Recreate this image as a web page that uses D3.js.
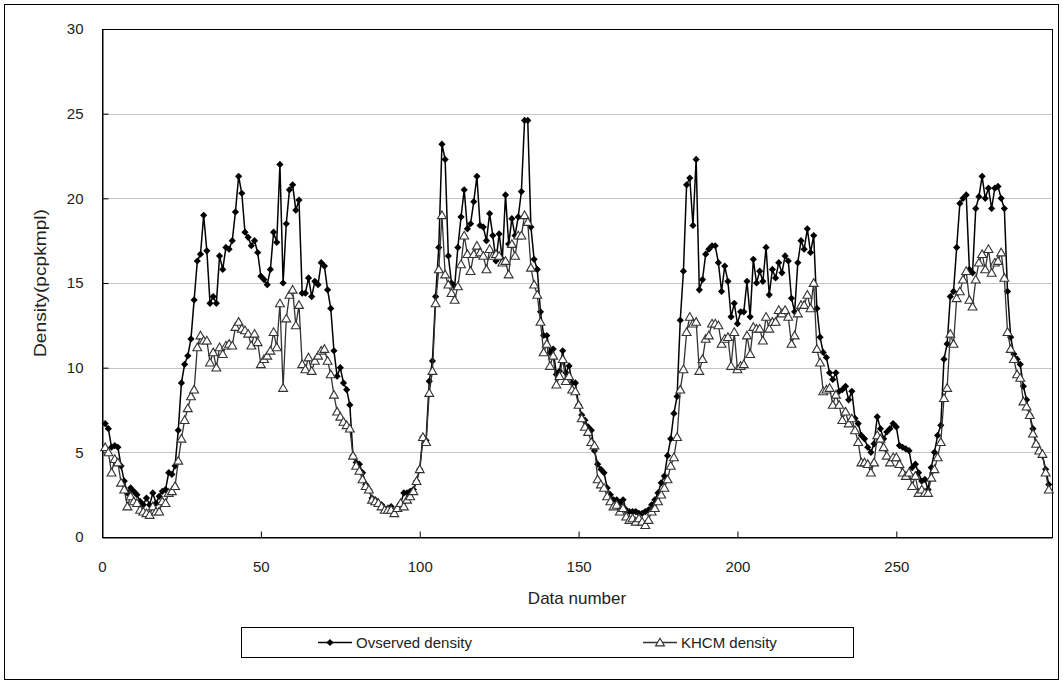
<!DOCTYPE html>
<html>
<head>
<meta charset="utf-8">
<script src="https://cdn.jsdelivr.net/npm/d3@7"></script>
<style>
  body { margin: 0; background: #fff; }
  svg { font-family: "Liberation Sans", Arial, sans-serif; }
</style>
</head>
<body>
<div id="chart"></div>
<script>
// Densities, data number 1..298.
const observed = [
  6.7, 6.4, 5.3, 5.4, 5.3, 4.2, 3.3, 2.6, 2.9, 2.7, 2.5, 2.1, 1.9, 2.3, 1.9, 2.6, 2.0, 2.4, 2.7, 2.8,
  3.8, 3.7, 4.2, 6.3, 9.1, 10.2, 10.7, 11.7, 14.0, 16.3, 16.7, 19.0, 16.9, 13.8, 14.2, 13.8, 16.6, 15.8, 17.1, 17.0,
  17.5, 19.2, 21.3, 20.3, 18.0, 17.7, 17.2, 17.5, 16.8, 15.4, 15.2, 14.9, 15.8, 18.0, 17.4, 22.0, 15.0, 18.5, 20.5, 20.8,
  19.3, 19.9, 14.4, 14.4, 15.3, 14.2, 15.1, 14.9, 16.2, 16.0, 14.6, 13.5, 11.0, 9.5, 10.0, 9.1, 8.7, 7.8, 4.8, 4.4,
  4.3, 3.8, 3.1, 2.8, 2.3, 2.2, 2.0, 1.9, 1.6, 1.7, 1.8, 1.5, 1.7, 2.0, 2.6, 2.6, 2.7, 2.8, 3.3, 4.0,
  5.9, 5.7, 9.2, 10.4, 14.2, 17.1, 23.2, 22.3, 16.6, 15.0, 14.8, 17.1, 18.9, 20.5, 18.2, 18.5, 19.8, 21.3, 18.4, 18.3,
  17.5, 19.1, 17.8, 16.3, 17.9, 16.4, 20.2, 17.3, 18.8, 17.8, 18.9, 20.4, 24.6, 24.6, 18.3, 16.4, 15.8, 13.3, 11.9, 11.9,
  10.9, 11.1, 9.6, 9.8, 11.0, 9.7, 10.1, 9.1, 9.1, 7.8, 7.2, 6.9, 6.5, 6.3, 5.1, 4.3, 4.0, 3.8, 2.9, 2.5,
  2.2, 2.2, 2.0, 2.2, 1.6, 1.5, 1.5, 1.5, 1.4, 1.4, 1.5, 1.6, 1.9, 2.2, 2.6, 3.2, 3.6, 4.8, 5.8, 7.3,
  8.3, 12.8, 15.7, 20.8, 21.2, 18.4, 22.3, 14.6, 15.2, 16.7, 17.0, 17.2, 17.2, 16.2, 14.5, 16.0, 15.1, 13.0, 13.8, 12.6,
  13.3, 13.3, 15.1, 13.0, 16.4, 15.0, 15.7, 15.1, 17.1, 14.3, 15.8, 15.3, 16.2, 15.6, 16.6, 16.3, 14.1, 13.3, 16.2, 17.5,
  17.0, 18.2, 16.8, 17.8, 13.5, 11.8, 10.9, 10.6, 9.7, 9.3, 9.7, 8.6, 8.7, 8.9, 8.1, 8.6, 7.0, 6.7, 6.0, 5.8,
  5.3, 5.0, 5.5, 7.1, 6.4, 5.8, 6.2, 6.4, 6.7, 6.5, 5.4, 5.3, 5.2, 5.1, 4.1, 4.3, 3.8, 3.3, 3.4, 2.8,
  4.1, 5.0, 6.0, 6.6, 10.5, 11.4, 14.2, 14.5, 17.1, 19.7, 20.0, 20.2, 15.8, 15.6, 19.4, 20.1, 21.3, 20.0, 20.6, 19.4,
  20.6, 20.7, 20.0, 19.4, 14.5, 11.8, 10.8, 10.5, 10.2, 8.9, 8.1, 7.2, 6.4, 5.5, 5.1, 4.8, 4.0, 3.1
];
const khcm = [
  5.3, 5.0, 3.8, 4.6, 4.4, 3.2, 2.8, 1.8, 2.4, 2.1, 2.0, 1.6, 1.5, 1.4, 1.3, 1.8, 1.5, 1.5, 2.1, 2.0,
  2.6, 2.7, 3.0, 4.5, 5.8, 6.9, 7.6, 8.3, 8.7, 11.2, 11.9, 11.6, 11.6, 10.3, 10.9, 10.0, 11.2, 10.8, 11.3, 11.4,
  11.3, 12.4, 12.7, 12.3, 12.2, 12.0, 11.3, 12.0, 11.5, 10.2, 10.5, 10.7, 11.0, 12.1, 11.2, 13.8, 8.8, 12.9, 14.3, 14.6,
  12.5, 13.7, 10.2, 9.9, 10.6, 9.8, 10.4, 10.7, 11.0, 11.1, 10.4, 9.6, 8.4, 7.4, 7.1, 6.8, 6.6, 6.4, 4.8, 4.2,
  3.9, 3.4, 3.0, 2.8, 2.2, 2.1, 2.0, 1.8, 1.6, 1.6, 1.6, 1.4, 1.7, 2.0, 1.8, 2.2, 2.4, 2.7, 3.3, 4.0,
  5.9, 5.6, 8.5, 9.8, 13.8, 15.8, 19.0, 15.5, 14.9, 14.4, 14.0, 14.8, 16.1, 17.8, 16.7, 15.7, 16.7, 17.2, 16.8, 16.6,
  15.8, 17.0, 16.6, 16.7, 16.6, 16.2, 16.3, 15.5, 17.3, 16.6, 17.8, 17.8, 19.0, 18.6, 15.9, 14.9, 14.3, 12.7, 10.9, 11.4,
  10.1, 10.7, 9.0, 9.5, 10.5, 9.2, 9.5, 8.7, 8.6, 7.8, 7.0, 6.5, 6.2, 5.6, 5.4, 3.4, 3.1, 2.9, 2.4, 2.1,
  1.8, 1.9, 1.5, 1.7, 1.2, 1.0, 1.1, 0.9, 1.1, 0.9, 0.7, 1.0, 1.5, 1.7, 2.1, 2.5, 2.9, 3.4, 4.2, 4.7,
  5.9, 8.7, 9.9, 12.1, 13.0, 12.6, 12.7, 9.8, 10.5, 11.7, 11.9, 12.6, 12.6, 12.5, 11.4, 11.7, 11.8, 10.1, 12.1, 9.9,
  10.1, 10.2, 11.9, 10.8, 12.4, 12.3, 12.3, 11.6, 13.0, 12.3, 12.7, 12.7, 13.4, 13.2, 13.4, 13.0, 11.4, 11.9, 13.2, 13.7,
  13.7, 14.3, 13.5, 15.0, 11.1, 10.3, 8.6, 8.7, 8.8, 7.8, 8.4, 7.8, 6.9, 7.4, 6.7, 7.0, 6.3, 5.6, 4.4, 4.4,
  4.3, 3.8, 4.4, 6.0, 5.8, 5.3, 4.8, 4.4, 4.7, 4.7, 4.3, 3.8, 3.6, 3.8, 3.0, 3.6, 2.6, 2.8, 2.6, 2.6,
  3.5, 4.0, 4.7, 5.6, 8.2, 8.8, 12.0, 11.4, 14.1, 14.5, 15.2, 15.7, 14.0, 13.6, 15.2, 16.2, 16.7, 15.8, 17.0, 15.6,
  16.2, 16.3, 16.8, 15.3, 12.1, 11.1, 10.5, 9.6, 9.4, 8.0, 7.7, 7.2, 6.1, 5.5, 5.1, 4.9, 3.8, 2.8
];
const xTicks = [0, 50, 100, 150, 200, 250];
const yTicks = [0, 5, 10, 15, 20, 25, 30];
const seriesNames = ["Ovserved density", "KHCM density"];

const width = 1063, height = 684;
const margin = { top: 29, right: 11, bottom: 147, left: 102 };

const svg = d3.select("#chart").append("svg")
  .attr("width", width)
  .attr("height", height);

// outer chart frame
svg.append("rect")
  .attr("x", 4.5).attr("y", 4.5)
  .attr("width", width - 9).attr("height", height - 9)
  .attr("fill", "#fff").attr("stroke", "#000");

const x = d3.scaleLinear().domain([0, 299]).range([margin.left, width - margin.right]);
const y = d3.scaleLinear().domain([0, 30]).range([height - margin.bottom, margin.top]);

// horizontal gridlines
svg.append("g")
  .selectAll("line")
  .data(yTicks.filter(d => d > 0 && d < 30))
  .join("line")
  .attr("x1", margin.left).attr("x2", width - margin.right)
  .attr("y1", d => Math.round(y(d)) + 0.5).attr("y2", d => Math.round(y(d)) + 0.5)
  .attr("stroke", "#c4c4c4");

// plot area border
svg.append("rect")
  .attr("x", margin.left + 0.5).attr("y", margin.top + 0.5)
  .attr("width", width - margin.left - margin.right)
  .attr("height", height - margin.top - margin.bottom)
  .attr("fill", "none").attr("stroke", "#000");

// axes (inside tick marks, like the original)
const xAxis = svg.append("g")
  .attr("transform", `translate(0,${height - margin.bottom + 0.5})`)
  .call(d3.axisBottom(x).tickValues(xTicks).tickSizeInner(-6).tickSizeOuter(0).tickPadding(24));
const yAxis = svg.append("g")
  .attr("transform", `translate(${margin.left + 0.5},0)`)
  .call(d3.axisLeft(y).tickValues(yTicks).tickSizeInner(-6).tickSizeOuter(0).tickPadding(19));
[xAxis, yAxis].forEach(g => {
  g.select(".domain").attr("stroke", "#000");
  g.selectAll(".tick line").attr("stroke", "#000");
  g.selectAll("text").attr("fill", "#222").style("font-size", "15px")
    .style("font-family", "'Liberation Sans', Arial, sans-serif");
});

// axis titles
svg.append("text")
  .attr("x", (margin.left + width - margin.right) / 2).attr("y", 604)
  .attr("text-anchor", "middle").attr("fill", "#222")
  .style("font-size", "17px")
  .text("Data number");
svg.append("text")
  .attr("transform", `translate(46,${(margin.top + height - margin.bottom) / 2}) rotate(-90)`)
  .attr("text-anchor", "middle").attr("fill", "#222")
  .style("font-size", "17px")
  .attr("textLength", 148).attr("lengthAdjust", "spacingAndGlyphs")
  .text("Density(pcpkmpl)");

const diamond = d3.symbol().type(d3.symbolSquare).size(26);
const triangle = d3.symbol().type(d3.symbolTriangle).size(34);

const line = d3.line()
  .x((d, i) => x(i + 1))
  .y(d => y(d));

// observed series
svg.append("path")
  .datum(observed)
  .attr("fill", "none").attr("stroke", "#000").attr("stroke-width", 1.5)
  .attr("d", line);
svg.append("g")
  .selectAll("path")
  .data(observed)
  .join("path")
  .attr("d", diamond)
  .attr("transform", (d, i) => `translate(${x(i + 1)},${y(d)}) rotate(45)`)
  .attr("fill", "#000");

// KHCM series
svg.append("path")
  .datum(khcm)
  .attr("fill", "none").attr("stroke", "#333").attr("stroke-width", 1.3)
  .attr("d", line);
svg.append("g")
  .selectAll("path")
  .data(khcm)
  .join("path")
  .attr("d", triangle)
  .attr("transform", (d, i) => `translate(${x(i + 1)},${y(d) + 0.8})`)
  .attr("fill", "#fff").attr("stroke", "#333").attr("stroke-width", 1.1);

// legend
const legend = svg.append("g");
legend.append("rect")
  .attr("x", 241.5).attr("y", 627.5).attr("width", 612).attr("height", 30)
  .attr("fill", "#fff").attr("stroke", "#000");
const legendX = [318, 643];
seriesNames.forEach((name, k) => {
  const g = legend.append("g").attr("transform", `translate(${legendX[k]},642.5)`);
  g.append("line").attr("x1", 0).attr("x2", 34)
    .attr("stroke", k === 0 ? "#000" : "#333").attr("stroke-width", k === 0 ? 1.5 : 1.3);
  if (k === 0) {
    g.append("path").attr("d", diamond).attr("transform", "translate(12,0) rotate(45)").attr("fill", "#000");
  } else {
    g.append("path").attr("d", triangle).attr("transform", "translate(17,0.8)")
      .attr("fill", "#fff").attr("stroke", "#333").attr("stroke-width", 1.1);
  }
  g.append("text").attr("x", 38).attr("y", 5.5)
    .attr("fill", "#222").style("font-size", "15px").text(name);
});
</script>
</body>
</html>
